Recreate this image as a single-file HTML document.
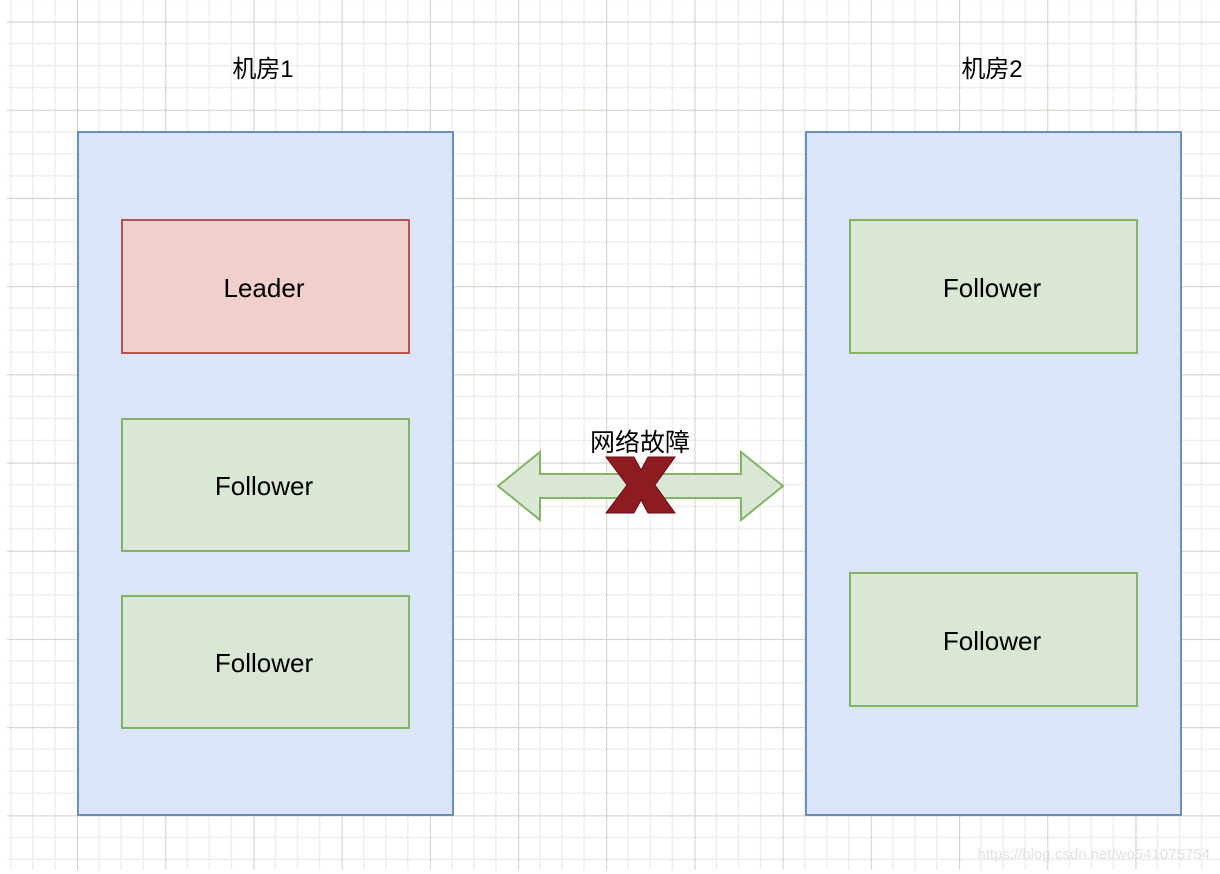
<!DOCTYPE html>
<html><head><meta charset="utf-8"><style>
html,body{margin:0;padding:0;background:#fff;}
svg{display:block;}
text{font-family:"Liberation Sans","Noto Sans CJK SC",sans-serif;}
</style></head><body>
<svg width="1220" height="874" xmlns="http://www.w3.org/2000/svg">
<defs>
<pattern id="gp" patternUnits="userSpaceOnUse" x="77" y="21.5" width="88.2" height="88.2">
<g stroke="#f0eee8" stroke-width="1.5">
<line x1="22.05" y1="0" x2="22.05" y2="88.2"/><line x1="44.1" y1="0" x2="44.1" y2="88.2"/><line x1="66.15" y1="0" x2="66.15" y2="88.2"/>
<line x1="0" y1="22.05" x2="88.2" y2="22.05"/><line x1="0" y1="44.1" x2="88.2" y2="44.1"/><line x1="0" y1="66.15" x2="88.2" y2="66.15"/>
</g>
<g stroke="#d6d2c8" stroke-width="1.2">
<line x1="0.5" y1="0" x2="0.5" y2="88.2"/><line x1="0" y1="0.5" x2="88.2" y2="0.5"/>
</g>
</pattern>
</defs>
<rect width="1220" height="874" fill="#fff"/>
<rect x="7" y="0" width="1213" height="870" fill="url(#gp)"/>
<text x="263" y="77" font-size="24" text-anchor="middle" fill="#000">机房1</text>
<text x="992" y="77" font-size="24" text-anchor="middle" fill="#000">机房2</text>
<rect x="78" y="132" width="375" height="683" fill="#dae5f7" stroke="#6c8ebf" stroke-width="2"/>
<rect x="806" y="132" width="375" height="683" fill="#dae5f7" stroke="#6c8ebf" stroke-width="2"/>
<rect x="122" y="220" width="287" height="133" fill="#f0cfcd" stroke="#b85450" stroke-width="2"/>
<rect x="122" y="419" width="287" height="132" fill="#d9e7d4" stroke="#82b366" stroke-width="2"/>
<rect x="122" y="596" width="287" height="132" fill="#d9e7d4" stroke="#82b366" stroke-width="2"/>
<rect x="850" y="220" width="287" height="133" fill="#d9e7d4" stroke="#82b366" stroke-width="2"/>
<rect x="850" y="573" width="287" height="133" fill="#d9e7d4" stroke="#82b366" stroke-width="2"/>
<g font-size="26" text-anchor="middle" fill="#000">
<text x="264" y="297">Leader</text>
<text x="264" y="495">Follower</text>
<text x="264" y="672">Follower</text>
<text x="992" y="297">Follower</text>
<text x="992" y="650">Follower</text>
</g>
<polygon points="498,486 540,452 540,474 741,474 741,452 783,486 741,520 741,498 540,498 540,520" fill="#d9e7d4" stroke="#82b366" stroke-width="2"/>
<text x="640" y="451" font-size="25" text-anchor="middle" fill="#000">网络故障</text>
<polygon points="606,457 634,457 641,470 648,457 675,457 655,485 675,513 648,513 641,500 634,513 606,513 627,485" fill="#8d1b22" stroke="#6a0e14" stroke-width="1"/>
<text x="1210" y="859" font-size="15" text-anchor="end" fill="#e2e2e2">https://blog.csdn.net/wo541075754</text>
</svg>
</body></html>
